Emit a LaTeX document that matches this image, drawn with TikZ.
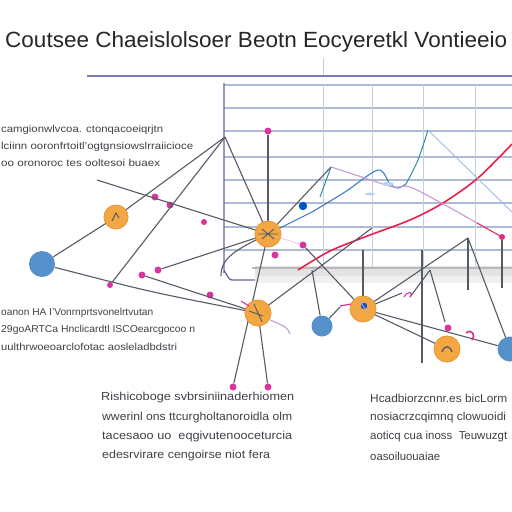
\documentclass[tikz,border=0pt]{standalone}
\usepackage{fontspec}
\setmainfont{Liberation Sans}
\usepackage{graphicx}
\definecolor{lnk}{HTML}{555B66}
\definecolor{gridc}{HTML}{AFBAD3}
\definecolor{gridv}{HTML}{C3CDE0}
\definecolor{orng}{HTML}{F2A743}
\definecolor{orngd}{HTML}{E8983A}
\definecolor{blu}{HTML}{5590CB}
\definecolor{pnk}{HTML}{D8359F}
\definecolor{redc}{HTML}{E8204A}
\definecolor{txtc}{HTML}{3F4147}
\definecolor{teal}{HTML}{2E8FA3}
\definecolor{bluel}{HTML}{3E7CC8}
\definecolor{purp}{HTML}{C79AD8}
\newcommand\fitw[2]{\resizebox{#1pt}{\height}{#2}}
\tikzset{
  lk/.style={draw=lnk, line width=1.1pt},
  orb/.style={circle, fill=orng, draw=orngd, line width=0.6pt, minimum size=26pt, inner sep=0pt},
  bub/.style={circle, fill=blu, minimum size=26pt, inner sep=0pt},
  dot/.style={circle, fill=pnk, minimum size=7pt, inner sep=0pt},
  txt/.style={anchor=west, inner sep=0pt, text=txtc, font=\fontsize{10}{12}\selectfont},
  txtb/.style={anchor=west, inner sep=0pt, text=txtc, font=\fontsize{11.5}{13}\selectfont},
}
\begin{document}
\begin{tikzpicture}[x=1pt,y=-1pt]
\useasboundingbox (0,0) rectangle (512,512);
\fill[white] (0,0) rectangle (512,512);
\begin{scope}
\clip (0,0) rectangle (512,512);
% title
\node[anchor=west, inner sep=0pt, text=black!85] (title) at (5,42) {\fitw{502}{\fontsize{22}{26}\selectfont Coutsee Chaeislolsoer Beotn Eocyeretkl Vontieeio}};
\draw[line width=1.8pt, draw=gray!70!blue!80] (87,76) -- (512,76);
\draw[line width=0.5pt, draw=gray!40] (323,58) -- (323,75);
% grid
\foreach \yy in {85,108,131,157,180,203,227,250}
  \draw[gridc, line width=1.2pt] (224,\yy) -- (512,\yy);
\foreach \xx in {323,372,423,475}
  \draw[gridv, line width=1pt] (\xx,85) -- (\xx,268);
\draw[gray!80!blue, line width=1.3pt] (224,83) -- (224,272) to[out=90,in=180] (232,280) -- (255,280);
\fill[gray!22] (255,266) rectangle (512,283);
\fill[gray!12] (255,276) rectangle (512,283);
\draw[gray!55, line width=1.4pt] (252,268) -- (512,268);
% chart series
\draw[redc, line width=1.6pt] plot[smooth] coordinates {(298,270) (330,251) (370,235) (410,220) (443,203) (478,178) (512,144)};
\coordinate (aD) at (331,167);
\coordinate (mk) at (312,212);
\draw[teal, line width=1pt] (320,197) -- (aD);
\draw[bluel, line width=1.1pt] plot[smooth, tension=0.5] coordinates {(mk) (345,192) (378,170) (390,184) (398,188) (406,184)};
\draw[teal, line width=1pt] plot[smooth, tension=0.5] coordinates {(406,184) (418,160) (428,130)};
\draw[purp, line width=1.1pt] plot[smooth, tension=0.5] coordinates {(aD) (365,178) (393,187) (410,187) (445,205) (477,223)};
\draw[pnk!80!red, line width=1.1pt] (477,223) -- (502,237);
\fill[pnk!80!red] (502,237) circle (3pt);
\draw[bluel!50, line width=0.9pt] (428,130) -- (512,212);
\fill[bluel!35] (388,184) ellipse (6pt and 2pt);
\fill[bluel!35] (370,194) ellipse (5pt and 1.5pt);
\fill[blue!60!cyan!80!black] (303,206) circle (4.2pt);
% coordinates
\coordinate (aA) at (225,137);
\coordinate (aB) at (468,238);
\coordinate (aC) at (430,270);
\coordinate (lf) at (97,180);
\coordinate (q3) at (372,228);
\coordinate (e1) at (363,250);
\coordinate (e2) at (402,293);
\coordinate (e3) at (445,322);
\coordinate (e4) at (410,297);
\coordinate (e5) at (468,290);
\coordinate (e6) at (502,288);
\coordinate (e7) at (312,270);
\coordinate (e8) at (340,307);
\coordinate (v1) at (422,250);
\coordinate (v2) at (422,363);
\coordinate (cc) at (221,276);
% nodes
\node[bub] (b1) at (42,264) {};
\node[bub, minimum size=21pt] (b2) at (322,326) {};
\node[bub, minimum size=25pt] (b3) at (510,349) {};
\node[dot] (p1) at (268,131) {};
\node[dot] (p2) at (155,197) {};
\node[dot] (p3) at (170,205) {};
\node[dot, minimum size=6pt] (p4) at (204,222) {};
\node[dot] (p5) at (158,270) {};
\node[dot] (p6) at (142,275) {};
\node[dot, minimum size=6pt] (p7) at (110,285) {};
\node[dot] (p8) at (210,295) {};
\node[dot] (p9) at (303,245) {};
\node[dot] (p10) at (275,255) {};
\node[dot] (p11) at (448,328) {};
\node[dot] (q1) at (233,387) {};
\node[dot] (q2) at (268,387) {};
\node[orb, minimum size=24pt] (o1) at (116,217) {};
\node[orb] (o2) at (268,234) {};
\node[orb] (o3) at (258,313) {};
\node[orb] (o4) at (363,309) {};
\node[orb] (o5) at (447,349) {};
% connectors
\draw[lk] (b1) -- (o1.center);
\draw[lk] (o1.center) -- (aA);
\draw[lk] (aA) -- (p7);
\draw[lk] (aA) -- (o2.center);
\draw[lk] (lf) -- (o2.center);
\draw[lk] (p5) -- (o2.center);
\draw[lk] (p6) -- (o3.center);
\draw[lk] (b1) .. controls (150,292) .. (o3.center);
\draw[lk] (o2.center) -- (p1);
\draw[lk] (o2.center) -- (aD);
\draw[bluel, line width=1.1pt] (o2.center) -- (mk);
\draw[lk] (o2.center) -- (q1);
\draw[lk] (o3.center) -- (q2);
\draw[lk] (o3.center) -- (q3);
\draw[pnk!30, line width=0.8pt] (o2.center) -- (p9);
\draw[lk] (p9) -- (o4.center);
\draw[lk] (o2.center) .. controls (235,250) and (221,258) .. (cc);
\draw[lk] (o4.center) -- (e1);
\draw[lk] (o4.center) -- (aB);
\draw[lk] (o4.center) -- (e2);
\draw[lk] (o4.center) -- (b3);
\draw[lk] (o4.center) -- (o5);
\draw[lk] (aC) -- (e3);
\draw[lk] (aC) -- (e4);
\draw[lk] (v1) -- (v2);
\draw[lk] (aB) -- (e5);
\draw[lk] (aB) -- (b3);
\draw[lk] (502,240) -- (e6);
\draw[lk] (b2) -- (e7);
\draw[lk] (b2) -- (e8);
% redraw circles on top
\node[orb, minimum size=24pt] at (o1) {};
\node[orb] at (o2) {};
\node[orb] at (o3) {};
\node[orb] at (o4) {};
\node[orb] at (o5) {};
\draw[lnk, line width=1pt] (o1.center) ++(-4,4) -- ++(4,-8) -- ++(3,5);
\draw[lnk, line width=0.9pt] (o2.center) ++(-6,-5) -- ++(12,10) (o2.center) ++(6,-5) -- ++(-12,10) (o2.center) ++(-10,0) -- ++(20,0);
\draw[lnk, line width=0.9pt] (o3.center) ++(-4,-9) -- ++(8,18) (o3.center) ++(-9,-2) -- ++(14,5);
\fill[blue!60!cyan!80!black] (364,306) circle (3.2pt);
\draw[lnk, line width=1.3pt] (442,352) .. controls (444,345) and (450,345) .. (452,352);
% pink stubs
\draw[pnk, line width=1.2pt] (340,306) -- (351,304);
\draw[pnk, line width=1.1pt] (404,297) .. controls (408,290) and (414,292) .. (410,297);
\draw[pnk!80!purple, line width=1.6pt] (466,333) .. controls (472,328) and (476,336) .. (472,340);
\draw[pnk, line width=1.1pt] (241,301) -- (249,306);
\draw[purp, line width=1.1pt] (270,320) .. controls (282,325) and (288,327) .. (290,334);
\draw[purp, line width=1pt] (360,301) -- (367,312);
% texts
\node[txt] (ta1) at (1,130) {\fitw{162}{camgionwlvcoa. ctonqacoeiqrjtn}};
\node[txt] (ta2) at (1,147) {\fitw{192}{lciinn ooronfrtoitl'ogtgnsiowslrraiicioce}};
\node[txt] (ta3) at (1,163) {\fitw{159}{oo oronoroc tes ooltesoi buaex}};
\node[txt] (tb1) at (1,313) {\fitw{152}{oanon HA I'Vonrnprtsvonelrtvutan}};
\node[txt] (tb2) at (1,330) {\fitw{194}{29goARTCa Hnclicardtl ISCOearcgocoo n}};
\node[txt] (tb3) at (1,347) {\fitw{176}{uulthrwoeoarclofotac aosleladbdstri}};
\node[txtb] (tc1) at (101,398) {\fitw{193}{Rishicoboge svbrsiniinaderhiomen}};
\node[txtb] (tc2) at (102,418) {\fitw{190}{wwerinl ons ttcurgholtanoroidla olm}};
\node[txtb] (tc3) at (102,437) {\fitw{190}{tacesaoo uo\ \ eqgivutenooceturcia}};
\node[txtb] (tc4) at (102,456) {\fitw{168}{edesrvirare cengoirse niot fera}};
\node[txtb] (td1) at (370,398) {\fitw{137}{Hcadbiorzcnnr.es bicLorm}};
\node[txtb] (td2) at (370,418) {\fitw{136}{nosiacrzcqimnq clowuoidi}};
\node[txtb] (td3) at (370,437) {\fitw{137}{aoticq cua inoss\ \ Teuwuzgt}};
\node[txtb] (td4) at (370,456) {\fitw{70}{oasoiluouaiae}};
\end{scope}
\end{tikzpicture}
\end{document}
